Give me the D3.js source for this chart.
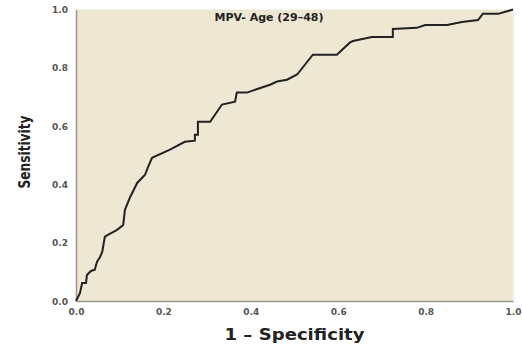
<!DOCTYPE html>
<html>
<head>
<meta charset="utf-8">
<script src="https://cdn.jsdelivr.net/npm/d3@7"></script>
<style>
  body { margin: 0; background: #fff; }
  svg { display: block; }
</style>
</head>
<body>
<div id="chart"></div>
<script>
  // ROC curve points
  var fpr = [0, 0.009, 0.014, 0.023, 0.025, 0.034, 0.043, 0.048, 0.055, 0.060, 0.066, 0.073, 0.094,
    0.108, 0.112, 0.124, 0.140, 0.158, 0.165, 0.174, 0.215, 0.249, 0.272, 0.272, 0.279, 0.279,
    0.307, 0.334, 0.364, 0.368, 0.391, 0.444, 0.460, 0.483, 0.506, 0.542, 0.597, 0.627, 0.634,
    0.677, 0.725, 0.725, 0.780, 0.799, 0.849, 0.883, 0.920, 0.931, 0.966, 1];
  var tpr = [0, 0.027, 0.062, 0.062, 0.089, 0.103, 0.107, 0.134, 0.151, 0.168, 0.220, 0.227, 0.244,
    0.261, 0.313, 0.357, 0.405, 0.433, 0.460, 0.491, 0.519, 0.546, 0.550, 0.570, 0.570, 0.615,
    0.615, 0.674, 0.684, 0.715, 0.715, 0.742, 0.753, 0.759, 0.777, 0.845, 0.845, 0.887, 0.892,
    0.906, 0.906, 0.933, 0.937, 0.947, 0.947, 0.957, 0.964, 0.985, 0.985, 1];
  var ticks = [0, 0.2, 0.4, 0.6, 0.8, 1.0];
  var title = "MPV- Age (29\u201348)";

  var width = 522, height = 347;
  var plotLeft = 76, plotRight = 513, plotTop = 9.5, plotBottom = 301;

  var svg = d3.select("#chart").append("svg")
    .attr("width", width)
    .attr("height", height);

  var x = d3.scaleLinear().domain([0, 1]).range([plotLeft, plotRight]);
  var y = d3.scaleLinear().domain([0, 1]).range([plotBottom, plotTop]);

  // plot background
  svg.append("rect")
    .attr("x", plotLeft).attr("y", plotTop)
    .attr("width", plotRight - plotLeft).attr("height", plotBottom - plotTop)
    .attr("fill", "#eee7d3");
  svg.append("line")
    .attr("x1", plotRight).attr("x2", plotRight).attr("y1", plotTop).attr("y2", plotBottom)
    .attr("stroke", "#f3eee2").attr("stroke-width", 2);

  var xAxis = svg.append("g")
    .attr("transform", "translate(0," + plotBottom + ")")
    .call(d3.axisBottom(x).tickValues(ticks).tickSize(0).tickPadding(6).tickFormat(d3.format(".1f")));
  var yAxis = svg.append("g")
    .attr("transform", "translate(" + plotLeft + ",0)")
    .call(d3.axisLeft(y).tickValues(ticks).tickSize(0).tickPadding(8).tickFormat(d3.format(".1f")));

  [xAxis, yAxis].forEach(function (g) {
    g.select(".domain").attr("stroke", "#9a968c").attr("stroke-width", 1.5);
    g.selectAll("text")
      .attr("fill", "#555")
      .style("font-family", "DejaVu Sans")
      .style("font-weight", "bold")
      .style("font-size", "9px");
  });
  xAxis.selectAll("text").attr("dy", "0.9em");
  yAxis.selectAll("text").attr("dy", "0.35em");

  var line = d3.line()
    .x(function (d) { return x(d[0]); })
    .y(function (d) { return y(d[1]); });

  svg.append("path")
    .datum(d3.zip(fpr, tpr))
    .attr("d", line)
    .attr("fill", "none")
    .attr("stroke", "#222")
    .attr("stroke-width", 2)
    .attr("stroke-linejoin", "miter");

  svg.append("text")
    .attr("x", 269).attr("y", 21)
    .attr("text-anchor", "middle")
    .attr("fill", "#222")
    .style("font-family", "DejaVu Sans")
    .style("font-weight", "bold")
    .style("font-size", "11px")
    .text(title);

  svg.append("text")
    .attr("x", (plotLeft + plotRight) / 2).attr("y", 340)
    .attr("text-anchor", "middle")
    .attr("fill", "#222")
    .attr("textLength", 140)
    .attr("lengthAdjust", "spacingAndGlyphs")
    .style("font-family", "DejaVu Sans")
    .style("font-weight", "bold")
    .style("font-size", "15px")
    .text("1 \u2013 Specificity");

  svg.append("text")
    .attr("transform", "translate(30,152) rotate(-90)")
    .attr("text-anchor", "middle")
    .attr("fill", "#222")
    .attr("textLength", 73)
    .attr("lengthAdjust", "spacingAndGlyphs")
    .style("font-family", "DejaVu Sans Condensed")
    .style("font-weight", "bold")
    .style("font-size", "15px")
    .text("Sensitivity");
</script>
</body>
</html>
